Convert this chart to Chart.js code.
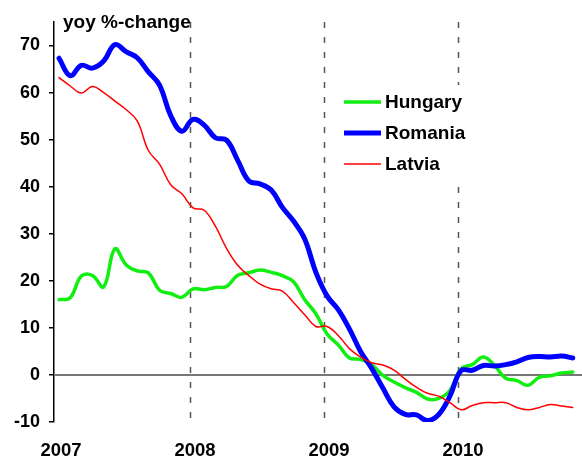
<!DOCTYPE html>
<html>
<head>
<meta charset="utf-8">
<script src="https://cdn.jsdelivr.net/npm/chart.js@4/dist/chart.umd.min.js"></script>
<style>
  html, body { margin: 0; padding: 0; background: #fff; }
  canvas { display: block; }
</style>
</head>
<body>
<canvas id="chart" width="582" height="458"></canvas>
<script>
// monthly observations, Jan 2007 .. Nov 2010
const months = [
  '2007-01', '2007-02', '2007-03', '2007-04', '2007-05', '2007-06', '2007-07', '2007-08', '2007-09', '2007-10', '2007-11', '2007-12',
  '2008-01', '2008-02', '2008-03', '2008-04', '2008-05', '2008-06', '2008-07', '2008-08', '2008-09', '2008-10', '2008-11', '2008-12',
  '2009-01', '2009-02', '2009-03', '2009-04', '2009-05', '2009-06', '2009-07', '2009-08', '2009-09', '2009-10', '2009-11', '2009-12',
  '2010-01', '2010-02', '2010-03', '2010-04', '2010-05', '2010-06', '2010-07', '2010-08', '2010-09', '2010-10', '2010-11'
];

const hungary = [
  16.0, 16.4, 21.0, 21.1, 18.7, 26.8, 23.4, 22.1, 21.7, 18.0, 17.3, 16.5,
  18.3, 18.1, 18.6, 18.8, 21.2, 21.7, 22.3, 21.8, 21.1, 19.8, 16.0, 13.0,
  8.7, 6.4, 3.6, 3.3, 2.2, -0.1, -1.5, -2.7, -3.7, -5.1, -5.0, -3.3,
  1.3, 2.2, 3.8, 2.0, -0.7, -1.2, -2.2, -0.5, -0.2, 0.4, 0.6
];

const romania = [
  67.3, 63.6, 65.8, 65.2, 66.7, 70.2, 68.7, 67.4, 64.4, 61.6, 55.1, 51.8,
  54.3, 53.1, 50.4, 49.9, 45.6, 41.2, 40.6, 39.3, 35.6, 32.7, 28.9, 21.8,
  16.8, 13.9, 9.8, 5.0, 1.4, -2.8, -6.8, -8.4, -8.5, -9.7, -8.4, -4.5,
  0.9, 1.0, 2.0, 1.9, 2.2, 2.8, 3.7, 3.9, 3.8, 4.0, 3.6
];

const latvia = [
  63.2, 61.4, 59.9, 61.3, 60.0, 58.2, 56.4, 54.0, 47.7, 44.8, 40.4, 38.5,
  35.5, 35.0, 31.6, 26.9, 23.3, 21.1, 19.3, 18.3, 17.8, 15.4, 12.8, 10.3,
  10.3, 8.4, 5.6, 3.8, 2.6, 2.1, 1.0, -0.9, -2.6, -3.9, -4.5, -5.9,
  -7.4, -6.5, -5.9, -5.9, -5.9, -6.9, -7.4, -6.9, -6.3, -6.6, -6.9
];

const yearTicks = [2007, 2008, 2009, 2010];
const markerYears = [2008, 2009, 2010];
const yTicks = [-10, 0, 10, 20, 30, 40, 50, 60, 70];

const FONT = '"Liberation Sans", Arial, sans-serif';

// month label -> position on the year axis
function toYear(m) {
    const [y, mo] = m.split('-').map(Number);
    return y + (mo - 1 + 0.27) / 12;
}

function toPoints(values) {
    return values.map((v, i) => ({ x: toYear(months[i]), y: v }));
}

// dashed year markers + zero line, under the series
const guides = {
    id: 'guides',
    beforeDatasetsDraw(chart) {
        const { ctx, chartArea, scales } = chart;
        ctx.save();
        ctx.strokeStyle = '#555';
        ctx.lineWidth = 1.5;
        ctx.setLineDash([6, 9]);
        markerYears.forEach(yr => {
            const x = Math.round(scales.x.getPixelForValue(yr)) + 0.5;
            ctx.beginPath();
            ctx.moveTo(x, chartArea.top);
            ctx.lineTo(x, chartArea.bottom);
            ctx.stroke();
        });
        ctx.setLineDash([]);
        ctx.strokeStyle = '#777';
        ctx.lineWidth = 2;
        const y0 = Math.round(scales.y.getPixelForValue(0));
        ctx.beginPath();
        ctx.moveTo(chartArea.left, y0);
        ctx.lineTo(chartArea.right, y0);
        ctx.stroke();
        ctx.restore();
    }
};

// title text and a boxed legend inside the plot
const overlay = {
    id: 'overlay',
    afterDatasetsDraw(chart) {
        const { ctx } = chart;
        ctx.save();
        ctx.fillStyle = '#000';
        ctx.font = 'bold 19px ' + FONT;
        ctx.textBaseline = 'alphabetic';
        ctx.textAlign = 'left';
        ctx.fillText('yoy %-change', 63, 28);

        ctx.fillStyle = '#fff';
        ctx.fillRect(336, 85, 134, 93);

        const order = [2, 1, 0];
        order.forEach((di, k) => {
            const ds = chart.data.datasets[di];
            const y = 102 + k * 31;
            ctx.strokeStyle = ds.borderColor;
            ctx.lineWidth = ds.borderWidth;
            ctx.beginPath();
            ctx.moveTo(344, y);
            ctx.lineTo(381, y);
            ctx.stroke();
            ctx.fillStyle = '#000';
            ctx.textBaseline = 'middle';
            ctx.fillText(ds.label, 385, y + 1);
        });
        ctx.restore();
    }
};

new Chart(document.getElementById('chart'), {
    type: 'line',
    data: {
        datasets: [
            { label: 'Latvia', data: toPoints(latvia), borderColor: '#ff0000', borderWidth: 1.5, order: 0 },
            { label: 'Romania', data: toPoints(romania), borderColor: '#0000ff', borderWidth: 5, order: 1 },
            { label: 'Hungary', data: toPoints(hungary), borderColor: '#11ee11', borderWidth: 3.5, order: 2 }
        ]
    },
    options: {
        responsive: false,
        animation: false,
        devicePixelRatio: 1,
        layout: { padding: { top: 22, right: 0, left: 0, bottom: 0 } },
        elements: {
            point: { radius: 0 },
            line: { tension: 0.4, fill: false, borderCapStyle: 'round', borderJoinStyle: 'round' }
        },
        plugins: {
            legend: { display: false },
            tooltip: { enabled: false }
        },
        scales: {
            x: {
                type: 'linear',
                min: 2006.985,
                max: 2010.925,
                grid: { display: false, drawTicks: false },
                border: { display: false },
                afterBuildTicks: s => { s.ticks = yearTicks.map(v => ({ value: v })); },
                afterFit: s => { s.height = 36; },
                ticks: {
                    padding: 18,
                    labelOffset: 5,
                    maxRotation: 0,
                    autoSkip: false,
                    color: '#000',
                    font: { family: FONT, size: 18.5, weight: 'bold' },
                    callback: v => String(v)
                }
            },
            y: {
                min: -10,
                max: 75,
                afterBuildTicks: s => { s.ticks = yTicks.map(v => ({ value: v })); },
                afterFit: s => { s.width = 54; },
                grid: { drawOnChartArea: false, drawTicks: true, tickLength: 5, color: '#000', lineWidth: 1.5 },
                border: { display: true, color: '#000', width: 1.5 },
                ticks: {
                    padding: 9,
                    color: '#000',
                    font: { family: FONT, size: 18, weight: 'bold' },
                    callback: v => String(v)
                }
            }
        }
    },
    plugins: [guides, overlay]
});
</script>
</body>
</html>
